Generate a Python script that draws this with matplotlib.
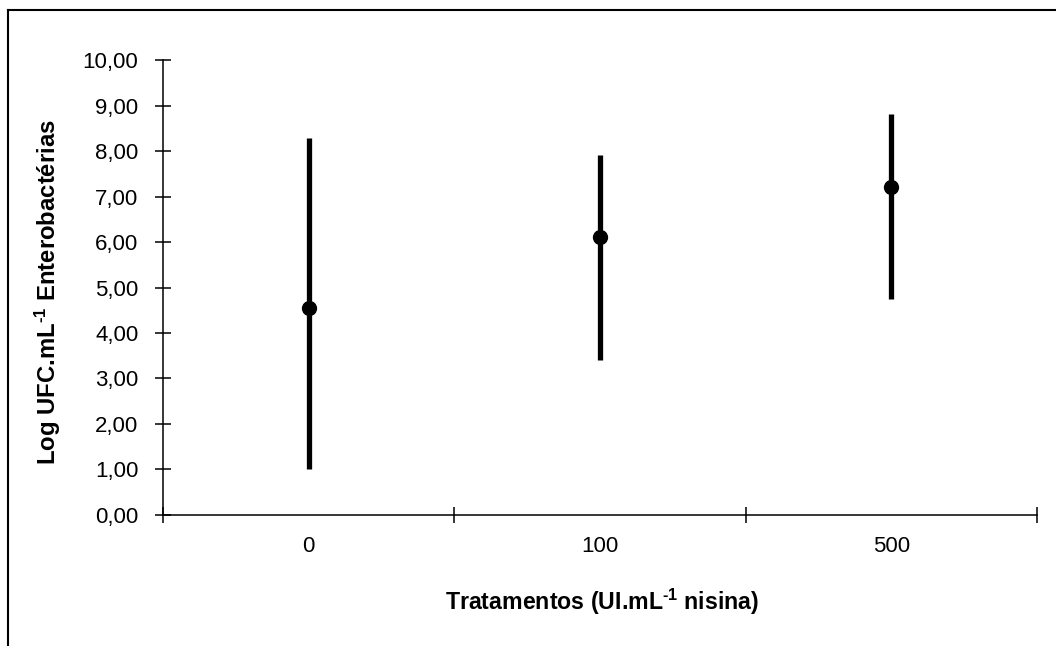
import numpy as np
import matplotlib
matplotlib.use("Agg")
import matplotlib.pyplot as plt
from matplotlib.lines import Line2D

plt.rcParams['font.family'] = ['Liberation Sans', 'DejaVu Sans']
plt.rcParams['mathtext.fontset'] = 'custom'
plt.rcParams['mathtext.rm'] = 'Liberation Sans:bold'
plt.rcParams['mathtext.default'] = 'rm'

# data
treatments = ["0", "100", "500"]
means = [4.55, 6.10, 7.20]
upper = [8.29, 7.91, 8.81]
lower = [1.00, 3.41, 4.74]
yticks = np.arange(0, 11, 1)

fig = plt.figure(figsize=(10.56, 6.46), dpi=100)
ax = fig.add_axes([0.1544, 0.2028, 0.8277, 0.7043])

xpos = np.arange(len(treatments)) + 0.5
m = np.array(means)
err = [m - np.array(lower), np.array(upper) - m]
ax.errorbar(xpos, m, yerr=err, fmt='o', color='black', ms=10,
            elinewidth=3.8, capsize=0)

ax.set_xlim(0, len(treatments))
ax.set_ylim(0, 10)
ax.set_yticks(yticks)
ax.set_yticklabels([f"{v:.2f}".replace(".", ",") for v in yticks])
ax.set_xticks(np.arange(len(treatments) + 1))
ax.set_xticklabels([])
ax.set_xticks(xpos, minor=True)
ax.set_xticklabels(treatments, minor=True)

for s in ("top", "right"):
    ax.spines[s].set_visible(False)
for s in ("left", "bottom"):
    ax.spines[s].set_linewidth(1.1)

ax.tick_params(axis='both', which='major', direction='inout', length=11.5,
               width=1.1, labelsize=16, colors='black')
ax.tick_params(axis='x', which='minor', length=0, labelsize=16, pad=15)
ax.tick_params(axis='y', pad=12)

fig.text(0.0455, 0.548, r"Log UFC.mL$^{\text{-1}}$ Enterobactérias", rotation=90,
         ha='center', va='center', fontsize=17.2, fontweight='bold')
fig.text(0.570, 0.068, r"Tratamentos (UI.mL$^{\text{-1}}$ nisina)",
         ha='center', va='center', fontsize=16.7, fontweight='bold')

# outer frame (left and top edges of the embedded chart box)
fig.add_artist(Line2D([8 / 1056, 8 / 1056], [0, 1 - 10 / 646],
                      transform=fig.transFigure, color='black', lw=1.5))
fig.add_artist(Line2D([8 / 1056, 1], [1 - 10 / 646, 1 - 10 / 646],
                      transform=fig.transFigure, color='black', lw=1.5))

fig.savefig("out.png", dpi=100)
